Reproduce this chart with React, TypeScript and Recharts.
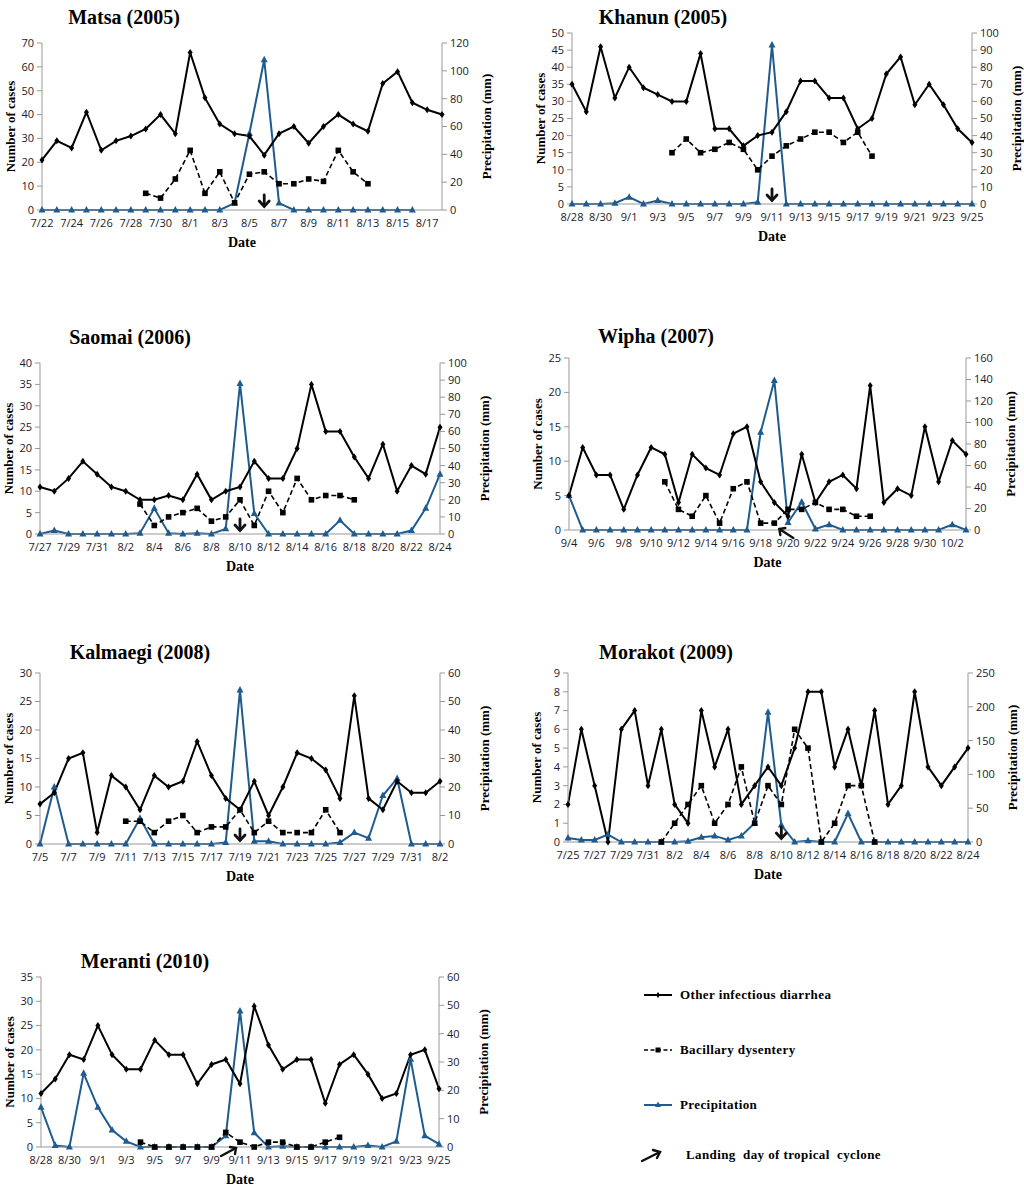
import React from "react";
import {
  ComposedChart,
  Line,
  XAxis,
  YAxis,
  ReferenceDot,
} from "recharts";

// ---- data ----

const matsaDates = ["7/22", "7/23", "7/24", "7/25", "7/26", "7/27", "7/28", "7/29", "7/30", "7/31", "8/1", "8/2", "8/3", "8/4", "8/5", "8/6", "8/7", "8/8", "8/9", "8/10", "8/11", "8/12", "8/13", "8/14", "8/15", "8/16", "8/17", "8/18"];
const matsaDiarrhea = [21, 29, 26, 41, 25, 29, 31, 34, 40, 32, 66, 47, 36, 32, 31, 23, 32, 35, 28, 35, 40, 36, 33, 53, 58, 45, 42, 40];
const matsaDysentery = [null, null, null, null, null, null, null, 7, 5, 13, 25, 7, 16, 3, 15, 16, 11, 11, 13, 12, 25, 16, 11, null, null, null, null, null];
const matsaRain = [0, 0, 0, 0, 0, 0, 0, 0, 0, 0, 0, 0, 0, 5, 55, 108, 5, 0, 0, 0, 0, 0, 0, 0, 0, 0, null, null];
const matsaCaseTicks = [0, 10, 20, 30, 40, 50, 60, 70];
const matsaRainTicks = [0, 20, 40, 60, 80, 100, 120];

const khanunDates = ["8/28", "8/29", "8/30", "8/31", "9/1", "9/2", "9/3", "9/4", "9/5", "9/6", "9/7", "9/8", "9/9", "9/10", "9/11", "9/12", "9/13", "9/14", "9/15", "9/16", "9/17", "9/18", "9/19", "9/20", "9/21", "9/22", "9/23", "9/24", "9/25"];
const khanunDiarrhea = [35, 27, 46, 31, 40, 34, 32, 30, 30, 44, 22, 22, 17, 20, 21, 27, 36, 36, 31, 31, 22, 25, 38, 43, 29, 35, 29, 22, 18];
const khanunDysentery = [null, null, null, null, null, null, null, 15, 19, 15, 16, 18, 16, 10, 14, 17, 19, 21, 21, 18, 21, 14, null, null, null, null, null, null, null];
const khanunRain = [0, 0, 0, 0.5, 4, 0, 2, 0, 0, 0, 0, 0, 0, 1, 93, 0, 0, 0, 0, 0, 0, 0, 0, 0, 0, 0, 0, 0, 0];
const khanunCaseTicks = [0, 5, 10, 15, 20, 25, 30, 35, 40, 45, 50];
const khanunRainTicks = [0, 10, 20, 30, 40, 50, 60, 70, 80, 90, 100];

const saomaiDates = ["7/27", "7/28", "7/29", "7/30", "7/31", "8/1", "8/2", "8/3", "8/4", "8/5", "8/6", "8/7", "8/8", "8/9", "8/10", "8/11", "8/12", "8/13", "8/14", "8/15", "8/16", "8/17", "8/18", "8/19", "8/20", "8/21", "8/22", "8/23", "8/24"];
const saomaiDiarrhea = [11, 10, 13, 17, 14, 11, 10, 8, 8, 9, 8, 14, 8, 10, 11, 17, 13, 13, 20, 35, 24, 24, 18, 13, 21, 10, 16, 14, 25];
const saomaiDysentery = [null, null, null, null, null, null, null, 7, 2, 4, 5, 6, 3, 4, 8, 2, 10, 5, 13, 8, 9, 9, 8, null, null, null, null, null, null];
const saomaiRain = [0, 2, 0, 0, 0, 0, 0, 0.5, 15, 0.5, 0, 0.5, 0, 3, 88, 12, 0, 0, 0, 0, 0, 8, 0, 0, 0, 0, 2, 15, 35];
const saomaiCaseTicks = [0, 5, 10, 15, 20, 25, 30, 35, 40];
const saomaiRainTicks = [0, 10, 20, 30, 40, 50, 60, 70, 80, 90, 100];

const wiphaDates = ["9/4", "9/5", "9/6", "9/7", "9/8", "9/9", "9/10", "9/11", "9/12", "9/13", "9/14", "9/15", "9/16", "9/17", "9/18", "9/19", "9/20", "9/21", "9/22", "9/23", "9/24", "9/25", "9/26", "9/27", "9/28", "9/29", "9/30", "10/1", "10/2", "10/3"];
const wiphaDiarrhea = [5, 12, 8, 8, 3, 8, 12, 11, 4, 11, 9, 8, 14, 15, 7, 4, 2, 11, 4, 7, 8, 6, 21, 4, 6, 5, 15, 7, 13, 11];
const wiphaDysentery = [null, null, null, null, null, null, null, 7, 3, 2, 5, 1, 6, 7, 1, 1, 3, 3, 4, 3, 3, 2, 2, null, null, null, null, null, null, null];
const wiphaRain = [32, 0, 0, 0, 0, 0, 0, 0, 0, 0, 0, 0, 0, 0, 91, 139, 7, 26, 1, 5, 0, 0, 0, 0, 0, 0, 0, 0, 5, 0];
const wiphaCaseTicks = [0, 5, 10, 15, 20, 25];
const wiphaRainTicks = [0, 20, 40, 60, 80, 100, 120, 140, 160];

const kalmaegiDates = ["7/5", "7/6", "7/7", "7/8", "7/9", "7/10", "7/11", "7/12", "7/13", "7/14", "7/15", "7/16", "7/17", "7/18", "7/19", "7/20", "7/21", "7/22", "7/23", "7/24", "7/25", "7/26", "7/27", "7/28", "7/29", "7/30", "7/31", "8/1", "8/2"];
const kalmaegiDiarrhea = [7, 9, 15, 16, 2, 12, 10, 6, 12, 10, 11, 18, 12, 8, 6, 11, 5, 10, 16, 15, 13, 8, 26, 8, 6, 11, 9, 9, 11];
const kalmaegiDysentery = [null, null, null, null, null, null, 4, 4, 2, 4, 5, 2, 3, 3, 6, 2, 4, 2, 2, 2, 6, 2, null, null, null, null, null, null, null];
const kalmaegiRain = [0, 20, 0, 0, 0, 0, 0, 9, 0, 0, 0, 0, 0, 0.5, 54, 1, 1, 0, 0, 0, 0, 0.5, 4, 2, 17, 23, 0, 0, 0];
const kalmaegiCaseTicks = [0, 5, 10, 15, 20, 25, 30];
const kalmaegiRainTicks = [0, 10, 20, 30, 40, 50, 60];

const morakotDates = ["7/25", "7/26", "7/27", "7/28", "7/29", "7/30", "7/31", "8/1", "8/2", "8/3", "8/4", "8/5", "8/6", "8/7", "8/8", "8/9", "8/10", "8/11", "8/12", "8/13", "8/14", "8/15", "8/16", "8/17", "8/18", "8/19", "8/20", "8/21", "8/22", "8/23", "8/24"];
const morakotDiarrhea = [2, 6, 3, 0, 6, 7, 3, 6, 2, 1, 7, 4, 6, 2, 3, 4, 3, 5, 8, 8, 4, 6, 3, 7, 2, 3, 8, 4, 3, 4, 5];
const morakotDysentery = [null, null, null, null, null, null, null, 0, 1, 2, 3, 1, 2, 4, 1, 3, 2, 6, 5, 0, 1, 3, 3, 0, null, null, null, null, null, null, null];
const morakotRain = [6, 3, 3, 11, 0, 0, 0, 0, 0, 1, 7, 9, 3, 9, 28, 192, 25, 0, 2, 0, 0, 42, 0, 0, 0, 0, 0, 0, 0, 0, 0];
const morakotCaseTicks = [0, 1, 2, 3, 4, 5, 6, 7, 8, 9];
const morakotRainTicks = [0, 50, 100, 150, 200, 250];

const merantiDates = ["8/28", "8/29", "8/30", "8/31", "9/1", "9/2", "9/3", "9/4", "9/5", "9/6", "9/7", "9/8", "9/9", "9/10", "9/11", "9/12", "9/13", "9/14", "9/15", "9/16", "9/17", "9/18", "9/19", "9/20", "9/21", "9/22", "9/23", "9/24", "9/25"];
const merantiDiarrhea = [11, 14, 19, 18, 25, 19, 16, 16, 22, 19, 19, 13, 17, 18, 13, 29, 21, 16, 18, 18, 9, 17, 19, 15, 10, 11, 19, 20, 12];
const merantiDysentery = [null, null, null, null, null, null, null, 1, 0, 0, 0, 0, 0, 3, 1, 0, 1, 1, 0, 0, 1, 2, null, null, null, null, null, null, null];
const merantiRain = [14, 0.5, 0, 26, 14, 6, 2, 0, 0, 0, 0, 0, 0, 4, 48, 5, 0, 0.3, 0, 0, 0, 0, 0, 0.5, 0, 2, 31, 4, 1];
const merantiCaseTicks = [0, 5, 10, 15, 20, 25, 30, 35];
const merantiRainTicks = [0, 10, 20, 30, 40, 50, 60];

const legendLabels = [
  "Other infectious diarrhea",
  "Bacillary dysentery",
  "Precipitation",
  "Landing  day of tropical  cyclone",
];

// ---- layout / style ----

const SERIF = '"Liberation Serif", "Times New Roman", serif';
const SANS = '"Open Sans", "Liberation Sans", sans-serif';
const BLUE = "#1f5b8e";
const AXIS = "#999";
const LEFT_W = 42;
const RIGHT_W = 70;
const TOP_M = 8;
const BOTTOM_H = 46;

type ArrowKind = "down" | "upLeft" | "upRight";

type PanelSpec = {
  title: string;
  titleX: number;
  titleY: number;
  left: number;
  top: number;
  plotW: number;
  plotH: number;
  dates: string[];
  diarrhea: (number | null)[];
  dysentery: (number | null)[];
  rain: (number | null)[];
  caseTicks: number[];
  rainTicks: number[];
  landing: string;
  arrow: ArrowKind;
};

const panels: PanelSpec[] = [
  { title: "Matsa (2005)", titleX: 124, titleY: 17, left: 42, top: 43, plotW: 400, plotH: 167, dates: matsaDates, diarrhea: matsaDiarrhea, dysentery: matsaDysentery, rain: matsaRain, caseTicks: matsaCaseTicks, rainTicks: matsaRainTicks, landing: "8/6", arrow: "down" },
  { title: "Khanun (2005)", titleX: 663, titleY: 17, left: 572, top: 33, plotW: 400, plotH: 171, dates: khanunDates, diarrhea: khanunDiarrhea, dysentery: khanunDysentery, rain: khanunRain, caseTicks: khanunCaseTicks, rainTicks: khanunRainTicks, landing: "9/11", arrow: "down" },
  { title: "Saomai (2006)", titleX: 130, titleY: 337, left: 40, top: 363, plotW: 400, plotH: 171, dates: saomaiDates, diarrhea: saomaiDiarrhea, dysentery: saomaiDysentery, rain: saomaiRain, caseTicks: saomaiCaseTicks, rainTicks: saomaiRainTicks, landing: "8/10", arrow: "down" },
  { title: "Wipha (2007)", titleX: 656, titleY: 336, left: 569, top: 358, plotW: 397, plotH: 172, dates: wiphaDates, diarrhea: wiphaDiarrhea, dysentery: wiphaDysentery, rain: wiphaRain, caseTicks: wiphaCaseTicks, rainTicks: wiphaRainTicks, landing: "9/19", arrow: "upLeft" },
  { title: "Kalmaegi (2008)", titleX: 140, titleY: 652, left: 40, top: 673, plotW: 400, plotH: 171, dates: kalmaegiDates, diarrhea: kalmaegiDiarrhea, dysentery: kalmaegiDysentery, rain: kalmaegiRain, caseTicks: kalmaegiCaseTicks, rainTicks: kalmaegiRainTicks, landing: "7/19", arrow: "down" },
  { title: "Morakot (2009)", titleX: 666, titleY: 652, left: 568, top: 673, plotW: 400, plotH: 169, dates: morakotDates, diarrhea: morakotDiarrhea, dysentery: morakotDysentery, rain: morakotRain, caseTicks: morakotCaseTicks, rainTicks: morakotRainTicks, landing: "8/10", arrow: "down" },
  { title: "Meranti (2010)", titleX: 145, titleY: 961, left: 41, top: 977, plotW: 398, plotH: 170, dates: merantiDates, diarrhea: merantiDiarrhea, dysentery: merantiDysentery, rain: merantiRain, caseTicks: merantiCaseTicks, rainTicks: merantiRainTicks, landing: "9/11", arrow: "upRight" },
];

// ---- markers ----

const diamondDot = (props: any) => {
  const { cx, cy, index } = props;
  if (cx == null || cy == null) return <g key={index} />;
  return (
    <path
      key={index}
      d={`M${cx},${cy - 3.5}L${cx + 2.5},${cy}L${cx},${cy + 3.5}L${cx - 2.5},${cy}Z`}
      fill="#000"
    />
  );
};

const squareDot = (props: any) => {
  const { cx, cy, index } = props;
  if (cx == null || cy == null) return <g key={index} />;
  return <rect key={index} x={cx - 2.8} y={cy - 2.8} width={5.6} height={5.6} fill="#000" />;
};

const triangleDot = (props: any) => {
  const { cx, cy, index } = props;
  if (cx == null || cy == null) return <g key={index} />;
  return (
    <path
      key={index}
      d={`M${cx},${cy - 4}L${cx + 3.5},${cy + 2.5}L${cx - 3.5},${cy + 2.5}Z`}
      fill={BLUE}
    />
  );
};

function arrowShape(kind: ArrowKind) {
  return (props: any) => {
    const { cx, cy } = props;
    if (kind === "down") {
      return (
        <g stroke="#111" strokeWidth={2.8} fill="none" strokeLinecap="round">
          <line x1={cx} y1={cy - 15} x2={cx} y2={cy - 4} />
          <polyline points={`${cx - 5},${cy - 9} ${cx},${cy - 3.5} ${cx + 5},${cy - 9}`} />
        </g>
      );
    }
    const tx = kind === "upLeft" ? cx + 5 : cx - 4;
    const ty = kind === "upLeft" ? cy - 1 : cy + 1;
    const sx = kind === "upLeft" ? cx + 19 : cx - 19;
    const sy = kind === "upLeft" ? cy + 8 : cy + 9;
    const dir = kind === "upLeft" ? 1 : -1;
    return (
      <g stroke="#111" strokeWidth={2.4} fill="none" strokeLinecap="round">
        <line x1={sx} y1={sy} x2={tx} y2={ty} />
        <polyline points={`${tx + dir * 1},${ty + 6} ${tx},${ty} ${tx + dir * 6},${ty - 1}`} />
      </g>
    );
  };
}

const tickStyle = { fontSize: 11, fill: "#1a1a2a", fontFamily: SANS };
const axisTitleStyle = {
  textAnchor: "middle" as const,
  fontFamily: SERIF,
  fontWeight: 700,
  fontSize: 13,
  fill: "#000",
};

function Panel({ p }: { p: PanelSpec }) {
  const data = p.dates.map((date, i) => ({
    date,
    diarrhea: p.diarrhea[i],
    dysentery: p.dysentery[i],
    rain: p.rain[i],
  }));
  const width = p.plotW + LEFT_W + RIGHT_W;
  const height = p.plotH + TOP_M + BOTTOM_H;
  const caseMax = p.caseTicks[p.caseTicks.length - 1];
  const rainMax = p.rainTicks[p.rainTicks.length - 1];

  return (
    <>
      <div
        style={{
          position: "absolute",
          left: p.titleX,
          top: p.titleY,
          transform: "translate(-50%, -50%)",
          fontFamily: SERIF,
          fontWeight: 700,
          fontSize: 20,
          whiteSpace: "nowrap",
        }}
      >
        {p.title}
      </div>
      <div style={{ position: "absolute", left: p.left - LEFT_W, top: p.top - TOP_M }}>
        <ComposedChart
          width={width}
          height={height}
          data={data}
          margin={{ top: TOP_M, right: 0, bottom: 0, left: 0 }}
        >
          <XAxis
            dataKey="date"
            scale="point"
            padding={{ left: 0, right: 0 }}
            interval={1}
            tickLine={false}
            axisLine={{ stroke: AXIS }}
            tick={tickStyle}
            tickSize={7}
            height={BOTTOM_H}
            label={{ value: "Date", position: "insideBottom", offset: 9, style: { ...axisTitleStyle, fontSize: 14 } }}
          />
          <YAxis
            yAxisId="left"
            domain={[0, caseMax]}
            ticks={p.caseTicks}
            interval={0}
            width={LEFT_W}
            tickSize={5}
            tickMargin={3}
            axisLine={{ stroke: AXIS }}
            tickLine={{ stroke: AXIS }}
            tick={tickStyle}
            label={{ value: "Number of cases", angle: -90, position: "insideLeft", offset: 10, style: axisTitleStyle }}
          />
          <YAxis
            yAxisId="right"
            orientation="right"
            domain={[0, rainMax]}
            ticks={p.rainTicks}
            interval={0}
            width={RIGHT_W}
            tickSize={5}
            tickMargin={3}
            axisLine={{ stroke: AXIS }}
            tickLine={{ stroke: AXIS }}
            tick={tickStyle}
            label={{ value: "Precipitation (mm)", angle: -90, position: "insideRight", offset: 26, style: axisTitleStyle }}
          />
          <Line
            yAxisId="right"
            dataKey="rain"
            name="Precipitation"
            type="linear"
            stroke={BLUE}
            strokeWidth={2}
            dot={triangleDot}
            activeDot={false}
            isAnimationActive={false}
          />
          <Line
            yAxisId="left"
            dataKey="dysentery"
            name="Bacillary dysentery"
            type="linear"
            stroke="#000"
            strokeWidth={1.6}
            strokeDasharray="5 3"
            dot={squareDot}
            activeDot={false}
            isAnimationActive={false}
          />
          <Line
            yAxisId="left"
            dataKey="diarrhea"
            name="Other infectious diarrhea"
            type="linear"
            stroke="#000"
            strokeWidth={2}
            dot={diamondDot}
            activeDot={false}
            isAnimationActive={false}
          />
          <ReferenceDot
            yAxisId="left"
            x={p.landing}
            y={0}
            r={0}
            shape={arrowShape(p.arrow)}
          />
        </ComposedChart>
      </div>
    </>
  );
}

function LegendBox() {
  const rowsY = [995, 1050, 1105, 1155];
  const icons = [
    <svg width={30} height={12} key="a">
      <line x1={0} y1={6} x2={28} y2={6} stroke="#000" strokeWidth={2} />
      <path d="M14,3 L16,6 L14,9 L12,6 Z" fill="#000" />
    </svg>,
    <svg width={30} height={12} key="b">
      <line x1={0} y1={6} x2={28} y2={6} stroke="#000" strokeWidth={1.6} strokeDasharray="4 2.5" />
      <rect x={11.5} y={3.5} width={5} height={5} fill="#000" />
    </svg>,
    <svg width={30} height={12} key="c">
      <line x1={0} y1={6} x2={28} y2={6} stroke={BLUE} strokeWidth={2} />
      <path d="M14,2.5 L17,8 L11,8 Z" fill={BLUE} />
    </svg>,
    <svg width={30} height={16} key="d">
      <g stroke="#111" strokeWidth={2.4} fill="none" strokeLinecap="round">
        <line x1={2} y1={14} x2={20} y2={5} />
        <polyline points="13,3 20,5 17,11" />
      </g>
    </svg>,
  ];
  return (
    <>
      {legendLabels.map((label, i) => (
        <div
          key={label}
          style={{
            position: "absolute",
            left: i === 3 ? 640 : 644,
            top: rowsY[i],
            transform: "translateY(-50%)",
            display: "flex",
            alignItems: "center",
            gap: i === 3 ? 16 : 6,
            fontFamily: SERIF,
            fontWeight: 700,
            fontSize: 13,
            letterSpacing: 0.4,
            whiteSpace: "pre",
          }}
        >
          {icons[i]}
          <span>{label}</span>
        </div>
      ))}
    </>
  );
}

export default function App() {
  return (
    <div
      style={{
        position: "absolute",
        left: 0,
        top: 0,
        width: 1024,
        height: 1192,
        background: "#fff",
        overflow: "hidden",
      }}
    >
      {panels.map((p) => (
        <Panel key={p.title} p={p} />
      ))}
      <LegendBox />
    </div>
  );
}
